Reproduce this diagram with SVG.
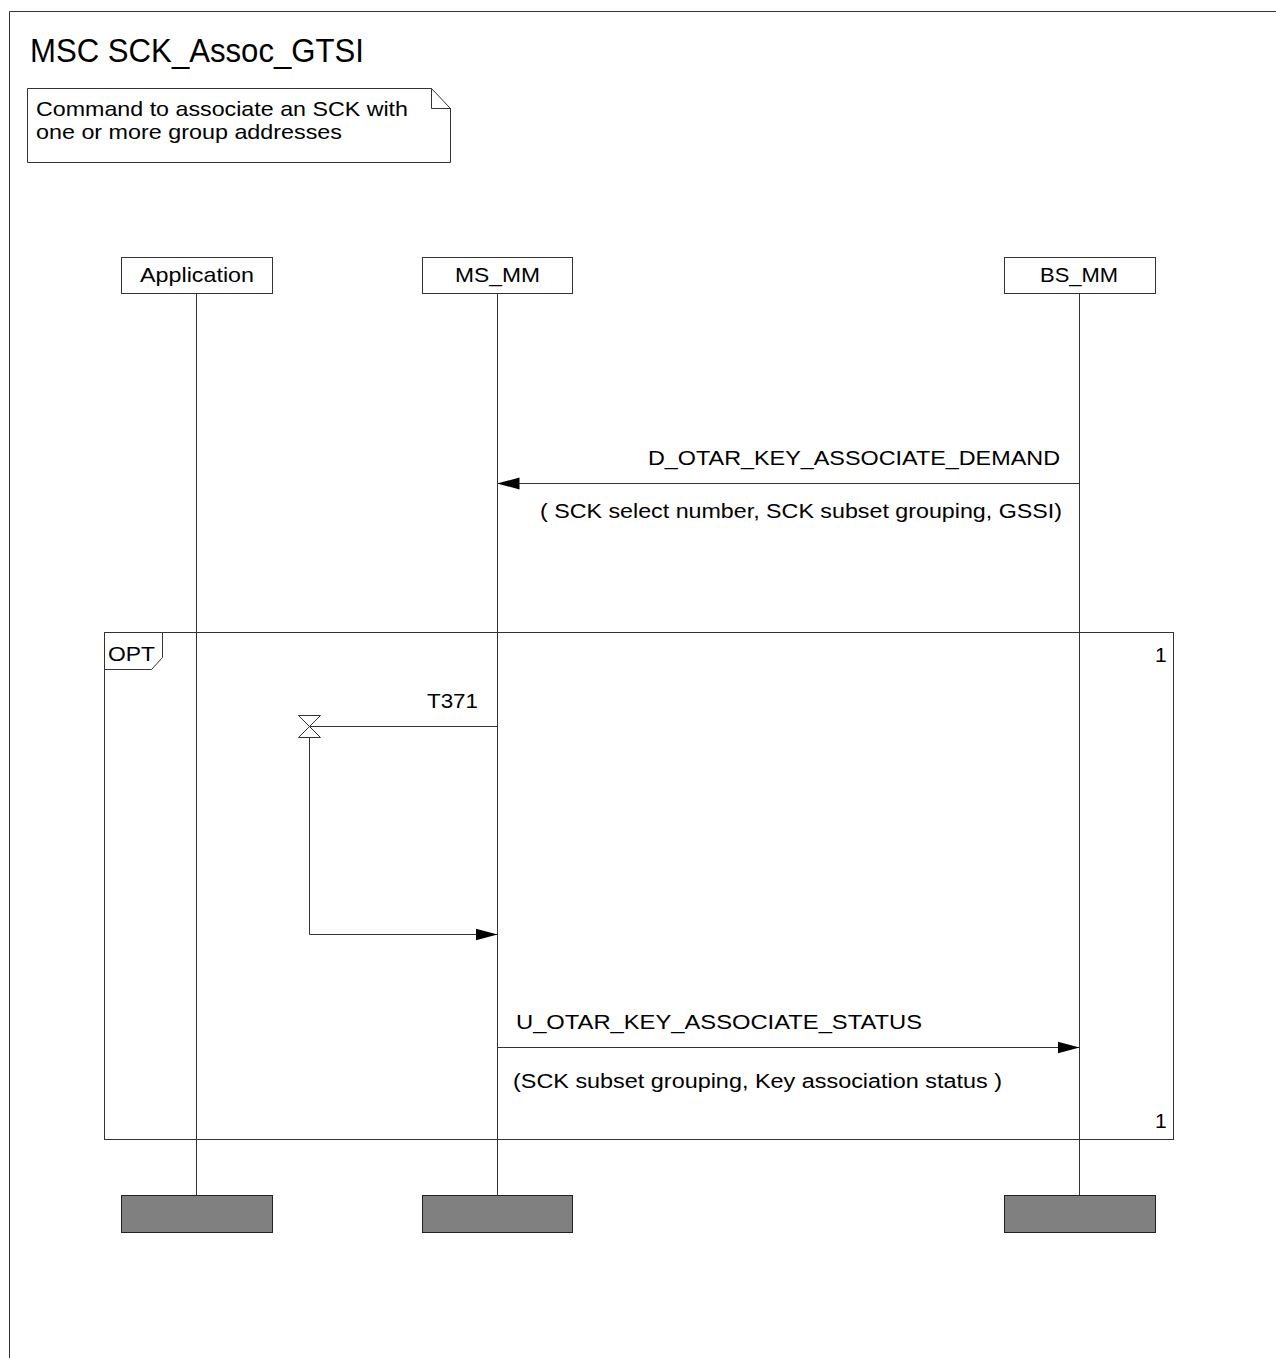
<svg xmlns="http://www.w3.org/2000/svg" width="1276" height="1358" viewBox="0 0 1276 1358">
<style>
text{font-family:"Liberation Sans",Arial,sans-serif;fill:#000}
.t20{font-size:20px}
.t21{font-size:21px}
.ln{stroke:#333;stroke-width:1;fill:none}
.box{fill:#fff;stroke:#333;stroke-width:1}
.end{fill:#808080;stroke:#222;stroke-width:1}
</style>
<defs>
<marker id="ah" markerWidth="22" markerHeight="14" refX="22" refY="7" orient="auto" markerUnits="userSpaceOnUse">
<path d="M0,1 L22,7 L0,13 Z" fill="#000"/>
</marker>
</defs>
<rect width="1276" height="1358" fill="#fff"/>
<g id="frame">
<path class="ln" d="M9.5,1358 V11.5 H1276"/>
<text x="30" y="62" style="font-size:33px" textLength="334" lengthAdjust="spacingAndGlyphs">MSC SCK_Assoc_GTSI</text>
</g>
<g id="note">
<path class="box" d="M27.5,88.5 H431.5 L450.5,108.5 V162.5 H27.5 Z"/>
<path class="ln" d="M431.5,88.5 V108.5 H450.5"/>
<text class="t21" x="36" y="116" textLength="372" lengthAdjust="spacingAndGlyphs">Command to associate an SCK with</text>
<text class="t21" x="36" y="139" textLength="306" lengthAdjust="spacingAndGlyphs">one or more group addresses</text>
</g>
<g id="opt">
<rect class="ln" x="104.5" y="632.5" width="1069" height="507"/>
<path class="box" d="M104.5,632.5 H162.5 V657.5 L151.5,669.5 H104.5 Z"/>
<text class="t21" x="108" y="661" textLength="47" lengthAdjust="spacingAndGlyphs">OPT</text>
<text class="t21" x="1155" y="662">1</text>
<text class="t21" x="1155" y="1128">1</text>
</g>
<g id="lifelines">
<line class="ln" x1="196.5" y1="293" x2="196.5" y2="1195"/>
<line class="ln" x1="497.5" y1="293" x2="497.5" y2="1195"/>
<line class="ln" x1="1079.5" y1="293" x2="1079.5" y2="1195"/>
</g>
<g id="Application">
<rect class="box" x="121.5" y="257.5" width="151" height="36"/>
<text class="t21" x="140" y="282" textLength="114" lengthAdjust="spacingAndGlyphs">Application</text>
<rect class="end" x="121.5" y="1195.5" width="151" height="37"/>
</g>
<g id="MS_MM">
<rect class="box" x="422.5" y="257.5" width="150" height="36"/>
<text class="t21" x="455" y="282" textLength="85" lengthAdjust="spacingAndGlyphs">MS_MM</text>
<rect class="end" x="422.5" y="1195.5" width="150" height="37"/>
</g>
<g id="BS_MM">
<rect class="box" x="1004.5" y="257.5" width="151" height="36"/>
<text class="t21" x="1040" y="282" textLength="78" lengthAdjust="spacingAndGlyphs">BS_MM</text>
<rect class="end" x="1004.5" y="1195.5" width="151" height="37"/>
</g>
<g id="connectors">
<line class="ln" x1="1079.5" y1="483.5" x2="497.5" y2="483.5" marker-end="url(#ah)"/>
<text class="t20" x="1060" y="465" text-anchor="end" textLength="412" lengthAdjust="spacingAndGlyphs">D_OTAR_KEY_ASSOCIATE_DEMAND</text>
<text class="t20" x="540" y="518" textLength="522" lengthAdjust="spacingAndGlyphs">( SCK select number, SCK subset grouping, GSSI)</text>
<line class="ln" x1="497.5" y1="726.5" x2="309.5" y2="726.5"/>
<path d="M298.5,715.5 H320.5 L298.5,737.5 H320.5 Z" fill="#fff" stroke="#333" stroke-width="1"/>
<text class="t20" x="478" y="708" text-anchor="end" textLength="51" lengthAdjust="spacingAndGlyphs">T371</text>
<polyline class="ln" points="309.5,737.5 309.5,934.5 497.5,934.5" marker-end="url(#ah)"/>
<line class="ln" x1="497.5" y1="1047.5" x2="1079.5" y2="1047.5" marker-end="url(#ah)"/>
<text class="t20" x="516" y="1029" textLength="406" lengthAdjust="spacingAndGlyphs">U_OTAR_KEY_ASSOCIATE_STATUS</text>
<text class="t20" x="513" y="1088" textLength="489" lengthAdjust="spacingAndGlyphs">(SCK subset grouping, Key association status )</text>
</g>
</svg>
